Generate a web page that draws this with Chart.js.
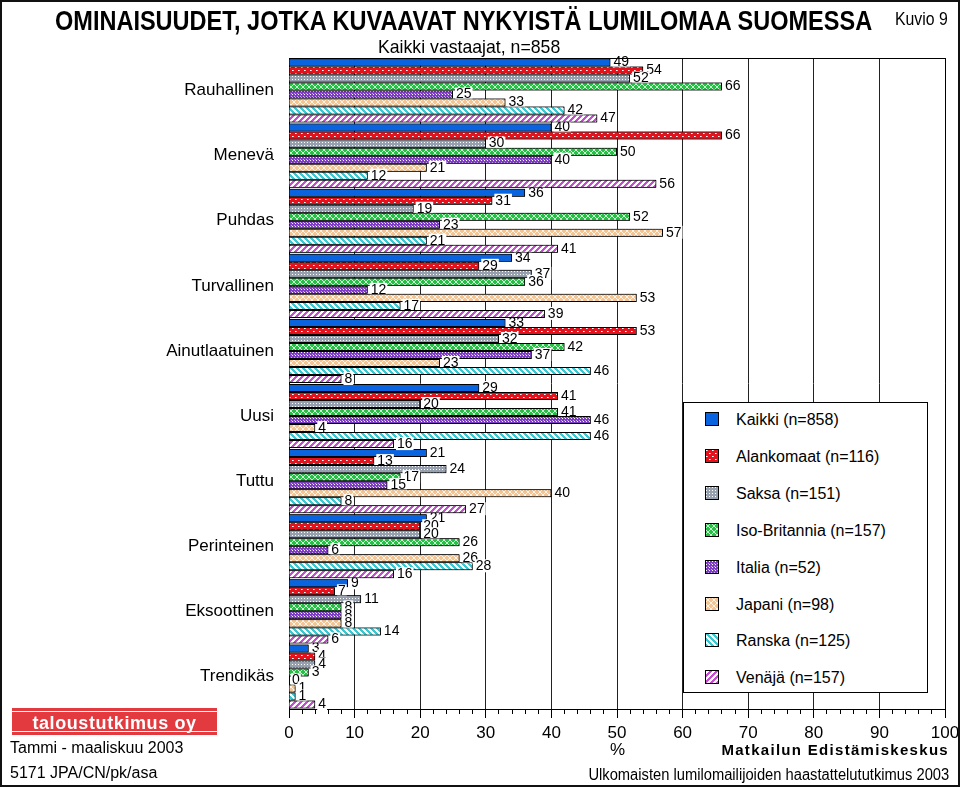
<!DOCTYPE html>
<html lang="fi">
<head>
<meta charset="utf-8">
<script src="https://cdn.jsdelivr.net/npm/chart.js@4.4.1/dist/chart.umd.min.js"></script>
<style>
  html, body { margin: 0; padding: 0; background: #fff; }
  body { width: 960px; height: 788px; position: relative; overflow: hidden;
         font-family: "Liberation Sans", Arial, sans-serif; color: #000; }
  #chart { position: absolute; left: 0; top: 0; }
  .txt { position: absolute; white-space: nowrap; line-height: 1; }
  #frame { position: absolute; left: 0; top: 0; width: 960px; height: 787px; box-sizing: border-box;
           border: 2px solid #111; pointer-events: none; }
  #title { left: 55px; top: 7px; font-size: 28px; font-weight: bold; transform: scaleX(0.84); transform-origin: left top; }
  #subtitle { left: 378px; top: 37px; font-size: 19px; transform: scaleX(0.93); transform-origin: left top; }
  #kuvio { left: 895px; top: 10px; font-size: 18px; transform: scaleX(0.88); transform-origin: left top; }
  #logo { position: absolute; left: 12px; top: 708px; width: 205px; height: 27px; background: #e23a3e; }
  #logo .inner { position: absolute; left: 0; right: 0; top: 3px; bottom: 3px;
                 border-top: 1px solid #fff; border-bottom: 1px solid #fff; }
  #logo span { position: absolute; left: 0; right: 0; top: 5px; text-align: center; color: #fff;
               font-weight: bold; font-size: 18px; letter-spacing: 0.6px; }
  #legend { position: absolute; left: 683px; top: 402px; width: 245px; height: 291px; box-sizing: border-box;
            border: 1px solid #000; background: #fff; }
  .item { position: absolute; left: 21px; height: 16px; }
  .item canvas { position: absolute; left: 0; top: 1px; }
  .item span { position: absolute; left: 31px; top: 0; font-size: 16px; white-space: nowrap; }
</style>
</head>
<body>
<canvas id="chart" width="960" height="788"></canvas>

<div class="txt" id="title">OMINAISUUDET, JOTKA KUVAAVAT NYKYISTÄ LUMILOMAA SUOMESSA</div>
<div class="txt" id="subtitle">Kaikki vastaajat, n=858</div>
<div class="txt" id="kuvio">Kuvio 9</div>

<div id="logo"><div class="inner"></div><span>taloustutkimus oy</span></div>
<div class="txt" style="left:10px; top:740px; font-size:16px;">Tammi - maaliskuu 2003</div>
<div class="txt" style="left:10px; top:765px; font-size:16px;">5171 JPA/CN/pk/asa</div>
<div class="txt" style="left:610px; top:741px; font-size:17px;">%</div>
<div class="txt" style="right:11px; top:742px; font-size:15px; font-weight:bold; letter-spacing:1.3px;">Matkailun Edistämiskeskus</div>
<div class="txt" style="right:11px; top:767px; font-size:16px; transform:scaleX(0.92); transform-origin:right top;">Ulkomaisten lumilomailijoiden haastattelututkimus 2003</div>

<div id="legend"></div>
<div id="frame"></div>

<script>
// ----------------------------------------------------
// DATA
// ----------------------------------------------------
const categories = ["Rauhallinen", "Menevä", "Puhdas", "Turvallinen", "Ainutlaatuinen",
                    "Uusi", "Tuttu", "Perinteinen", "Eksoottinen", "Trendikäs"];

const seriesNames = ["Kaikki (n=858)", "Alankomaat (n=116)", "Saksa (n=151)", "Iso-Britannia (n=157)",
                     "Italia (n=52)", "Japani (n=98)", "Ranska (n=125)", "Venäjä (n=157)"];

const kaikki       = [49, 40, 36, 34, 33, 29, 21, 21, 9, 3];
const alankomaat   = [54, 66, 31, 29, 53, 41, 13, 20, 7, 4];
const saksa        = [52, 30, 19, 37, 32, 20, 24, 20, 11, 4];
const isoBritannia = [66, 50, 52, 36, 42, 41, 17, 26, 8, 3];
const italia       = [25, 40, 23, 12, 37, 46, 15, 6, 8, 0];
const japani       = [33, 21, 57, 53, 23, 4, 40, 26, 8, 1];
const ranska       = [42, 12, 21, 17, 46, 46, 8, 28, 14, 1];
const venaja       = [47, 56, 41, 39, 8, 16, 27, 16, 6, 4];

const xTickLabels = ["0", "10", "20", "30", "40", "50", "60", "70", "80", "90", "100"];

const seriesValues = [kaikki, alankomaat, saksa, isoBritannia, italia, japani, ranska, venaja];

// ----------------------------------------------------
// PATTERNS (one small tile per series)
// ----------------------------------------------------
function tile(size, bg, draw) {
  const c = document.createElement("canvas");
  c.width = size; c.height = size;
  const t = c.getContext("2d");
  t.fillStyle = bg;
  t.fillRect(0, 0, size, size);
  if (draw) draw(t, size);
  return c;
}

function px(t, x, y, col) { t.fillStyle = col; t.fillRect(x, y, 1, 1); }

const tiles = [
  tile(4, "#0a64e0"),
  tile(6, "#e4121c", (t) => { px(t, 1, 1, "#fff"); px(t, 4, 4, "#fff"); px(t, 2, 1, "#f6b0b0"); px(t, 5, 4, "#f6b0b0"); }),
  tile(3, "#97a0ae", (t) => { px(t, 1, 1, "#fff"); }),
  tile(6, "#26c046", (t, s) => { for (let i = 0; i < s; i++) { px(t, i, i, "#c9f2d0"); px(t, s - 1 - i, i, "#c9f2d0"); } }),
  tile(3, "#7e3cc4", (t) => { px(t, 1, 1, "#fff"); px(t, 0, 0, "#c8a8ee"); }),
  tile(6, "#f3c494", (t, s) => { for (let i = 0; i < s; i++) { px(t, i, i, "#fff3e6"); px(t, s - 1 - i, i, "#fff3e6"); } }),
  tile(6, "#ffffff", (t, s) => { for (let i = 0; i < s; i++) { for (let k = 0; k < 3; k++) px(t, (i + k) % s, i, "#3cc6cf"); } }),
  tile(6, "#ffffff", (t, s) => { for (let i = 0; i < s; i++) { for (let k = 0; k < 3; k++) px(t, (s - 1 - i + k) % s, i, "#c64cd2"); } })
];

// ----------------------------------------------------
// LEGEND (html)
// ----------------------------------------------------
const legend = document.getElementById("legend");
seriesNames.forEach((name, i) => {
  const item = document.createElement("div");
  item.className = "item";
  item.style.top = (8 + i * 36.9) + "px";
  const sw = document.createElement("canvas");
  sw.width = 14; sw.height = 14;
  const sctx = sw.getContext("2d");
  sctx.fillStyle = sctx.createPattern(tiles[i], "repeat");
  sctx.fillRect(0, 0, 14, 14);
  sctx.strokeStyle = "#000";
  sctx.lineWidth = 1;
  sctx.strokeRect(0.5, 0.5, 13, 13);
  const label = document.createElement("span");
  label.textContent = name;
  item.appendChild(sw);
  item.appendChild(label);
  legend.appendChild(item);
});

// ----------------------------------------------------
// PLUGIN: bar labels + plot frame
// ----------------------------------------------------
const barLabels = {
  id: "barLabels",
  afterDatasetsDraw(chart) {
    const ctx = chart.ctx;
    ctx.save();
    ctx.font = '14px "Liberation Sans", Arial, sans-serif';
    ctx.textBaseline = "middle";
    chart.data.datasets.forEach((ds, i) => {
      const meta = chart.getDatasetMeta(i);
      // redraw in series order so each later bar covers the previous labels
      meta.data.forEach((bar) => bar.draw(ctx));
      meta.data.forEach((bar, j) => {
        const txt = String(ds.data[j]);
        const w = ctx.measureText(txt).width;
        const x = bar.x + 2;
        ctx.fillStyle = "#fff";
        ctx.fillRect(x, bar.y - 7, w + 2, 13);
        ctx.fillStyle = "#000";
        ctx.fillText(txt, x + 1, bar.y);
      });
    });
    const a = chart.chartArea;
    ctx.strokeStyle = "#000";
    ctx.lineWidth = 1;
    ctx.beginPath();
    ctx.moveTo(a.left, Math.round(a.top) + 0.5);
    ctx.lineTo(Math.round(a.right) + 0.5, Math.round(a.top) + 0.5);
    ctx.lineTo(Math.round(a.right) + 0.5, a.bottom);
    ctx.stroke();
    ctx.restore();
  }
};

// ----------------------------------------------------
// CHART
// ----------------------------------------------------
const canvas = document.getElementById("chart");
const ctx = canvas.getContext("2d");

new Chart(ctx, {
  type: "bar",
  data: {
    labels: categories,
    datasets: seriesNames.map((name, i) => ({
      label: name,
      data: seriesValues[i],
      backgroundColor: ctx.createPattern(tiles[i], "repeat"),
      borderColor: "#000",
      borderWidth: 1,
      xAxisID: "x",
      yAxisID: "y"
    }))
  },
  options: {
    indexAxis: "y",
    responsive: false,
    animation: false,
    layout: { padding: { top: 58, right: 15, left: 0, bottom: 0 } },
    datasets: { bar: { barPercentage: 1, categoryPercentage: 0.985 } },
    plugins: {
      legend: { display: false },
      tooltip: { enabled: false }
    },
    scales: {
      y: {
        grid: { display: false, drawTicks: false },
        border: { display: true, color: "#000", width: 1 },
        ticks: { color: "#000", padding: 15, font: { family: "Liberation Sans", size: 17 } },
        afterFit(scale) { scale.width = 289; }
      },
      x: {
        min: 0,
        max: 100,
        weight: 1,
        ticks: {
          stepSize: 10,
          color: "#000",
          padding: 5,
          font: { family: "Liberation Sans", size: 17 },
          callback: (v, i) => xTickLabels[i]
        },
        grid: { color: "#222", lineWidth: 1, tickLength: 9, tickColor: "#000" },
        border: { display: true, color: "#000", width: 1 },
        afterFit(scale) { scale.height = 79; scale.paddingRight = 0; scale.paddingLeft = 0; }
      },
      x2: {
        type: "linear",
        position: "bottom",
        min: 0,
        max: 100,
        weight: 0,
        ticks: { stepSize: 2, display: false },
        grid: { drawOnChartArea: false, tickLength: 5, color: "#000" },
        border: { display: false },
        afterFit(scale) { scale.height = 0; scale.paddingRight = 0; scale.paddingLeft = 0; }
      }
    }
  },
  plugins: [barLabels]
});
</script>
</body>
</html>
